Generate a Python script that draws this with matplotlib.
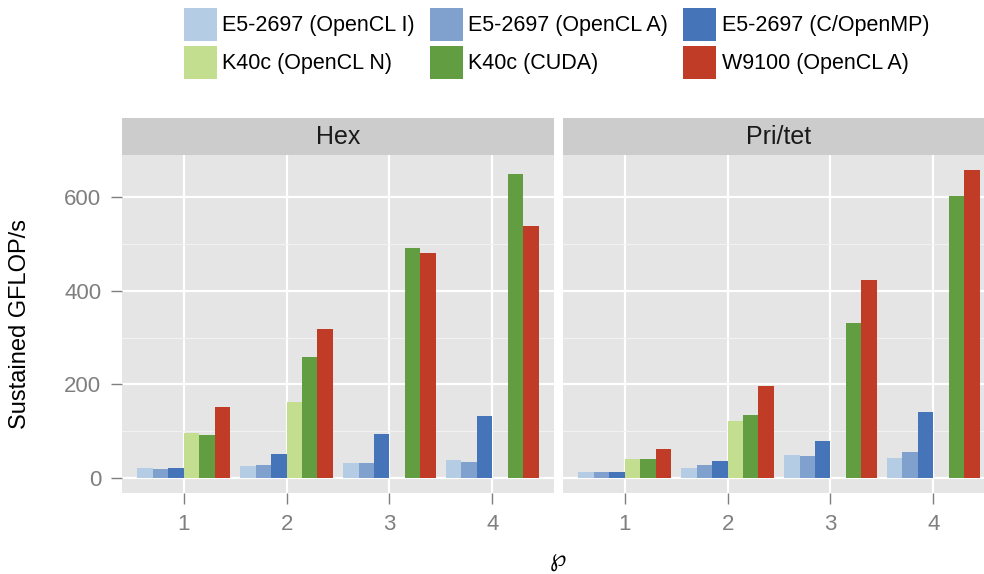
import numpy as np
import matplotlib
matplotlib.use("Agg")
import matplotlib.pyplot as plt
from matplotlib.patches import Patch

plt.rcParams["font.family"] = ["Liberation Sans", "DejaVu Sans"]

# data
orders = [1, 2, 3, 4]
series = ["E5-2697 (OpenCL I)", "E5-2697 (OpenCL A)", "E5-2697 (C/OpenMP)",
          "K40c (OpenCL N)", "K40c (CUDA)", "W9100 (OpenCL A)"]
colors = ["#B4CCE4", "#80A1CD", "#4674B8", "#C3DE8E", "#629E41", "#C13C26"]

hex_I = [20, 24, 31, 37]
hex_A = [18, 26, 31, 33]
hex_omp = [20, 50, 93, 132]
hex_N = [95, 163, np.nan, np.nan]
hex_cuda = [91, 258, 492, 651]
hex_W = [151, 318, 481, 539]

pri_I = [11, 20, 48, 41]
pri_A = [11, 28, 46, 54]
pri_omp = [11, 35, 78, 140]
pri_N = [39, 121, np.nan, np.nan]
pri_cuda = [39, 134, 331, 604]
pri_W = [61, 196, 424, 658]

panels = [("Hex", [hex_I, hex_A, hex_omp, hex_N, hex_cuda, hex_W]),
          ("Pri/tet", [pri_I, pri_A, pri_omp, pri_N, pri_cuda, pri_W])]

W, H = 984, 574
fig = plt.figure(figsize=(W / 100, H / 100), dpi=100)

ymax = max(np.nanmax(v) for _, vals in panels for v in vals)
ylim = (-0.05 * ymax, 1.05 * ymax)

pw = 432
lefts = [122, 563]
top, bot, strip_h = 155, 493, 37
grey = "#7F7F7F"
x = np.array(orders, dtype=float)
bw = 0.15

for k, (name, vals) in enumerate(panels):
    ax = fig.add_axes([lefts[k] / W, (H - bot) / H, pw / W, (bot - top) / H])
    ax.set_facecolor("#E5E5E5")
    for s in ax.spines.values():
        s.set_visible(False)
    ax.set_xlim(0.4, 4.6)
    ax.set_ylim(*ylim)
    ax.set_yticks([0, 200, 400, 600])
    ax.set_yticks([100, 300, 500], minor=True)
    ax.set_xticks(orders)
    ax.grid(True, which="major", color="white", lw=1.6)
    ax.grid(True, which="minor", axis="y", color="#F2F2F2", lw=0.8)
    ax.set_axisbelow(True)
    for i, v in enumerate(vals):
        ax.bar(x + (i - 2.5) * bw, v, width=bw, color=colors[i], lw=0)
    ax.tick_params(axis="both", which="major", colors=grey, labelsize=16,
                   length=8, width=1, pad=7, labelcolor=grey)
    ax.tick_params(axis="y", which="minor", length=0)
    if k == 1:
        ax.tick_params(axis="y", length=0, labelleft=False)
    sax = fig.add_axes([lefts[k] / W, (H - top) / H, pw / W, strip_h / H])
    sax.set_facecolor("#CCCCCC")
    sax.set_xticks([])
    sax.set_yticks([])
    for s in sax.spines.values():
        s.set_visible(False)
    sax.text(0.5, 0.48, name, ha="center", va="center", fontsize=18,
             color="#1A1A1A", transform=sax.transAxes)

fig.text(20 / W, 1 - 324 / H, "Sustained GFLOP/s", rotation=90, ha="center",
         va="center", fontsize=17)
fig.text(558 / W, 1 - 562 / H, r"$\wp$", ha="center", va="center", fontsize=17)

handles = [Patch(facecolor=c, edgecolor="none") for c in colors]
order = [0, 3, 1, 4, 2, 5]
fig.legend([handles[i] for i in order], [series[i] for i in order],
           ncol=3, loc="upper left", bbox_to_anchor=(184 / W, 1 - 8 / H),
           frameon=False, fontsize=15.5, borderpad=0, borderaxespad=0,
           handlelength=1.53, handleheight=1.98, handletextpad=0.25,
           labelspacing=0.22, columnspacing=0.7)

fig.savefig("out.png", dpi=100)
